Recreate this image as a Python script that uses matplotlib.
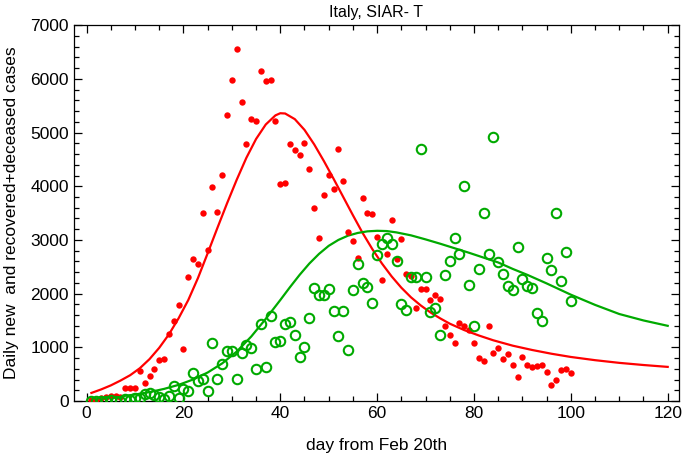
import matplotlib.pyplot as plt
from matplotlib.ticker import MultipleLocator

plt.rcParams['font.family'] = ['Liberation Sans', 'DejaVu Sans']

# daily new cases (red dots), day 1..100
new_cases = [15, 25, 60, 65, 95, 95, 80, 250, 238, 240,
             566, 342, 466, 587, 769, 778, 1247, 1492, 1797, 977,
             2313, 2651, 2547, 3497, 2810, 3990, 3526, 4207, 5322, 5986,
             6557, 5560, 4789, 5249, 5210, 6153, 5959, 5974, 5217, 4050,
             4053, 4782, 4668, 4585, 4805, 4316, 3599, 3039, 3836, 4204,
             3951, 4694, 4092, 3153, 2972, 2667, 3786, 3493, 3491, 3047,
             2256, 2729, 3370, 2646, 3021, 2357, 2324, 1739, 2091, 2086,
             1872, 1965, 1900, 1389, 1221, 1075, 1444, 1401, 1327, 1083,
             802, 744, 1402, 888, 992, 789, 875, 675, 451, 813,
             665, 642, 652, 669, 531, 300, 397, 584, 593, 516]

# daily recovered + deceased (green circles), day 1..100
rec_dec = [0, 0, 0, 0, 15, 5, 5, 45, 10, 50,
           60, 130, 150, 110, 80, 40, 100, 280, 50, 217,
           185, 525, 370, 405, 190, 1080, 405, 680, 937, 937,
           403, 890, 1035, 995, 590, 1430, 639, 1583, 1105, 1110,
           1428, 1477, 1229, 813, 1012, 1550, 2098, 1974, 1974, 2080,
           1676, 1216, 1682, 956, 2061, 2557, 2203, 2123, 1819, 2719,
           2929, 3035, 2918, 2613, 1806, 1695, 2309, 2309, 4687, 2303,
           1660, 1735, 1223, 2350, 2600, 3030, 2737, 4004, 2154, 1397,
           2452, 3495, 2737, 4910, 2594, 2359, 2147, 2067, 2873, 2266,
           2147, 2110, 1633, 1495, 2669, 2440, 3495, 2235, 2781, 1868]
days = list(range(1, len(new_cases) + 1))

# model curves
red_fit_days = [1, 3, 5, 7, 9, 11, 13, 15, 17, 19, 21, 23, 25, 27, 29, 31,
                33, 35, 37, 39, 40, 41, 43, 45, 47, 49, 51, 53, 55, 57, 59,
                61, 63, 65, 67, 69, 71, 73, 75, 78, 81, 84, 88, 92, 96, 100,
                105, 110, 115, 120]
red_fit = [150, 215, 290, 380, 480, 610, 780, 990, 1240, 1540, 1880, 2290,
           2750, 3220, 3680, 4120, 4530, 4880, 5150, 5320, 5360, 5355, 5250,
           5050, 4780, 4470, 4140, 3800, 3460, 3130, 2830, 2560, 2320, 2110,
           1930, 1780, 1650, 1540, 1440, 1320, 1220, 1130, 1030, 950, 880,
           820, 760, 710, 670, 635]
green_fit_days = [1, 4, 7, 10, 13, 16, 19, 22, 25, 28, 31, 34, 37, 40, 42,
                  44, 46, 48, 50, 52, 54, 56, 58, 60, 62, 64, 67, 70, 73, 76,
                  79, 82, 85, 88, 91, 95, 100, 105, 110, 115, 120]
green_fit = [30, 55, 85, 120, 165, 225, 300, 400, 530, 700, 920, 1200, 1530,
             1880, 2120, 2350, 2560, 2740, 2890, 3000, 3080, 3130, 3160, 3170,
             3165, 3140, 3085, 3010, 2930, 2845, 2760, 2670, 2580, 2460, 2350,
             2190, 1980, 1790, 1620, 1500, 1400]

red = '#ff0000'
green = '#00aa00'

fig = plt.figure(figsize=(6.85, 4.58), dpi=100)
ax = fig.add_axes([0.108, 0.1245, 0.883, 0.8205])

ax.plot(red_fit_days, red_fit, color=red, lw=1.6, zorder=2)
ax.plot(green_fit_days, green_fit, color=green, lw=1.6, zorder=2)
ax.plot(days, new_cases, 'o', color=red, ms=4.6, mec='none', zorder=3)
ax.plot(days, rec_dec, 'o', mfc='none', mec=green, mew=1.5, ms=6.8, zorder=3)

ax.set_xlim(-2.6, 122.3)
ax.set_ylim(0, 7000)
ax.xaxis.set_major_locator(MultipleLocator(20))
ax.xaxis.set_minor_locator(MultipleLocator(5))
ax.yaxis.set_major_locator(MultipleLocator(1000))
ax.yaxis.set_minor_locator(MultipleLocator(200))
ax.tick_params(which='both', direction='in', top=True, right=True,
               labelsize=12.5, width=0.9)
ax.tick_params(which='major', length=6)
ax.tick_params(which='minor', length=3.5)
for s in ax.spines.values():
    s.set_linewidth(0.9)

ax.set_title('Italy, SIAR- T', fontsize=11.5, pad=6)
ax.set_xlabel('day from Feb 20th', fontsize=12.5, labelpad=12)
ax.set_ylabel('Daily new  and recovered+deceased cases', fontsize=12.5, labelpad=8)

fig.savefig('out.png', dpi=100)
